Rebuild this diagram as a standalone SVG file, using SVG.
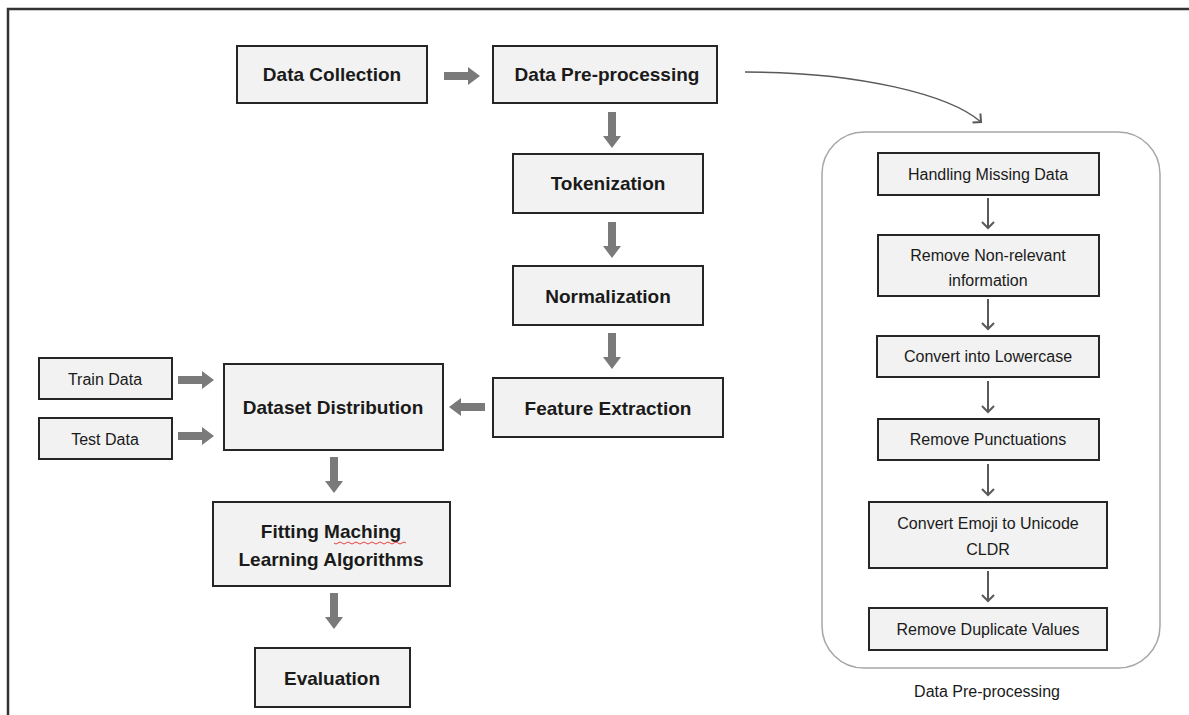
<svg xmlns="http://www.w3.org/2000/svg" width="1189" height="715" viewBox="0 0 1189 715">
<defs>
<style>
.box{fill:#f2f2f2;stroke:#262626;stroke-width:2}
.t{font-family:"Liberation Sans",Arial,sans-serif;font-weight:bold;font-size:19px;fill:#1a1a1a;text-anchor:middle}
.s{font-family:"Liberation Sans",Arial,sans-serif;font-size:16px;fill:#1a1a1a;text-anchor:middle}
.blk{fill:#7a7a7a}
.thin{stroke:#595959;stroke-width:2;fill:none}
</style>
<path id="ar" d="M0,-4 L24,-4 L24,-9 L36,0 L24,9 L24,4 L0,4 Z"/>
<marker id="v" markerWidth="14" markerHeight="14" refX="7" refY="7" orient="auto" markerUnits="userSpaceOnUse">
<path d="M1,1 L7,7 L1,13" fill="none" stroke="#595959" stroke-width="2"/>
</marker>
</defs>
<rect x="0" y="0" width="1189" height="715" fill="#ffffff"/>
<path d="M8,715 L8,9 L1189,9" fill="none" stroke="#333" stroke-width="2.5"/>

<g id="connectors">
<use href="#ar" class="blk" transform="translate(444,76)"/>
<use href="#ar" class="blk" transform="translate(612,112) rotate(90)"/>
<use href="#ar" class="blk" transform="translate(612,222) rotate(90)"/>
<use href="#ar" class="blk" transform="translate(612,333) rotate(90)"/>
<use href="#ar" class="blk" transform="translate(485,407) rotate(180)"/>
<use href="#ar" class="blk" transform="translate(178,380)"/>
<use href="#ar" class="blk" transform="translate(178,436)"/>
<use href="#ar" class="blk" transform="translate(334,457) rotate(90)"/>
<use href="#ar" class="blk" transform="translate(334,593) rotate(90)"/>
<path d="M745,72 C860,72 950,95 981,122" fill="none" stroke="#595959" stroke-width="1.5" marker-end="url(#v)"/>
<line class="thin" x1="988" y1="198" x2="988" y2="228" marker-end="url(#v)"/>
<line class="thin" x1="988" y1="299" x2="988" y2="329" marker-end="url(#v)"/>
<line class="thin" x1="988" y1="381" x2="988" y2="412" marker-end="url(#v)"/>
<line class="thin" x1="988" y1="464" x2="988" y2="495" marker-end="url(#v)"/>
<line class="thin" x1="988" y1="571" x2="988" y2="601" marker-end="url(#v)"/>
</g>

<g id="data-collection"><rect class="box" x="237" y="46" width="190" height="57"/><text class="t" x="332" y="81">Data Collection</text></g>
<g id="data-preprocessing"><rect class="box" x="493" y="46" width="224" height="57"/><text class="t" x="607" y="81">Data Pre-processing</text></g>
<g id="tokenization"><rect class="box" x="513" y="154" width="190" height="59"/><text class="t" x="608" y="190">Tokenization</text></g>
<g id="normalization"><rect class="box" x="513" y="266" width="190" height="59"/><text class="t" x="608" y="303">Normalization</text></g>
<g id="feature-extraction"><rect class="box" x="493" y="378" width="230" height="59"/><text class="t" x="608" y="415">Feature Extraction</text></g>
<g id="dataset-distribution"><rect class="box" x="224" y="364" width="219" height="86"/><text class="t" x="333" y="414">Dataset Distribution</text></g>
<g id="train-data"><rect class="box" x="39" y="358" width="133" height="41"/><text class="s" x="105" y="385">Train Data</text></g>
<g id="test-data"><rect class="box" x="39" y="418" width="133" height="41"/><text class="s" x="105" y="445">Test Data</text></g>
<g id="fitting"><rect class="box" x="213" y="502" width="237" height="84"/><text class="t" x="331" y="538">Fitting Maching</text><text class="t" x="331" y="566">Learning Algorithms</text>
<path d="M334,543 q2,2 4,0 t4,0 t4,0 t4,0 t4,0 t4,0 t4,0 t4,0 t4,0 t4,0 t4,0 t4,0 t4,0 t4,0 t4,0 t4,0 t4,0 t4,0" fill="none" stroke="#e03030" stroke-width="0.9"/></g>
<g id="evaluation"><rect class="box" x="255" y="648" width="155" height="59"/><text class="t" x="332" y="685">Evaluation</text></g>

<g id="preprocessing-panel">
<rect x="822" y="132" width="338" height="536" rx="42" ry="42" fill="none" stroke="#a6a6a6" stroke-width="1.5"/>
<text class="s" x="987" y="697">Data Pre-processing</text>
</g>
<g id="handling-missing"><rect class="box" x="878" y="153" width="221" height="42"/><text class="s" x="988" y="180">Handling Missing Data</text></g>
<g id="remove-nonrelevant"><rect class="box" x="878" y="235" width="221" height="61"/><text class="s" x="988" y="261">Remove Non-relevant</text><text class="s" x="988" y="286">information</text></g>
<g id="lowercase"><rect class="box" x="877" y="336" width="222" height="41"/><text class="s" x="988" y="362">Convert into Lowercase</text></g>
<g id="punctuations"><rect class="box" x="878" y="419" width="221" height="41"/><text class="s" x="988" y="445">Remove Punctuations</text></g>
<g id="emoji"><rect class="box" x="869" y="502" width="238" height="66"/><text class="s" x="988" y="529">Convert Emoji to Unicode</text><text class="s" x="988" y="555">CLDR</text></g>
<g id="duplicates"><rect class="box" x="869" y="608" width="238" height="42"/><text class="s" x="988" y="635">Remove Duplicate Values</text></g>
</svg>
